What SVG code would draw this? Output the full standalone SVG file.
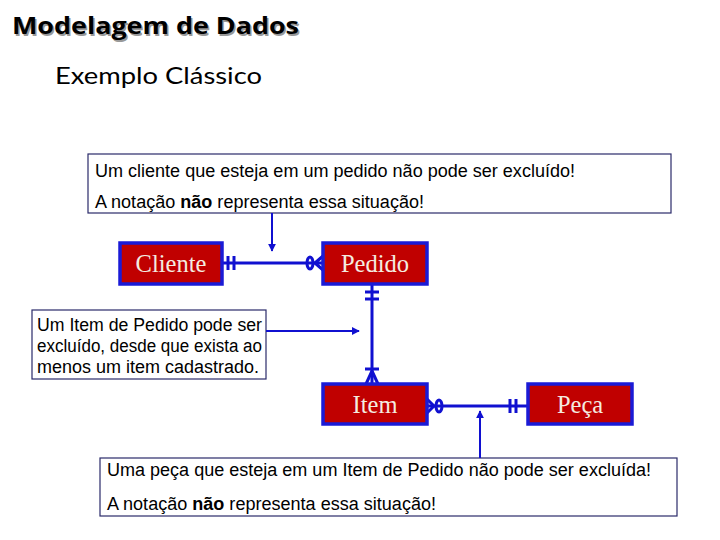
<svg xmlns="http://www.w3.org/2000/svg" width="720" height="540" viewBox="0 0 720 540">
<style>
.ent rect{fill:#c00000;stroke:#1a1ad6;stroke-width:3.5}
.ent text{font-family:"Liberation Serif",serif;font-size:24.5px;fill:#f4ece0;text-anchor:middle}
.note rect{fill:#fff;stroke:#2a2a6a;stroke-width:1.2}
.note text{font-family:"Liberation Sans",Arial,sans-serif;font-size:18px;fill:#000}
.c{stroke:#1010d0;stroke-width:3;fill:none}
.a{stroke:#1010d0;stroke-width:2;fill:none}
</style>
<defs>
<marker id="ah" viewBox="0 0 10 10" refX="9" refY="5" markerWidth="4" markerHeight="4" orient="auto">
<path d="M0,0 L10,5 L0,10 z" fill="#1010d0"/>
</marker>
</defs>
<rect width="720" height="540" fill="#fff"/>
<g id="title">
<text x="13.5" y="35.5" font-family="'Open Sans',sans-serif" font-weight="bold" font-size="24" fill="#999" textLength="287" lengthAdjust="spacingAndGlyphs">Modelagem de Dados</text>
<text x="12" y="34" font-family="'Open Sans',sans-serif" font-weight="bold" font-size="24" fill="#000" textLength="287" lengthAdjust="spacingAndGlyphs">Modelagem de Dados</text>
<text x="55" y="84" font-family="Lato,sans-serif" font-size="24" fill="#000" textLength="207" lengthAdjust="spacingAndGlyphs">Exemplo Clássico</text>
</g>
<g id="note1" class="note">
<rect x="88" y="154" width="583" height="59"/>
<text x="95" y="177" textLength="480" lengthAdjust="spacingAndGlyphs">Um cliente que esteja em um pedido não pode ser excluído!</text>
<text x="95" y="208" textLength="329" lengthAdjust="spacingAndGlyphs">A notação <tspan font-weight="bold">não</tspan> representa essa situação!</text>
</g>
<g id="note2" class="note">
<rect x="32" y="310" width="234" height="69"/>
<text x="37" y="331" textLength="225" lengthAdjust="spacingAndGlyphs">Um Item de Pedido pode ser</text>
<text x="37" y="352" textLength="225" lengthAdjust="spacingAndGlyphs">excluído, desde que exista ao</text>
<text x="37" y="373" textLength="222" lengthAdjust="spacingAndGlyphs">menos um item cadastrado.</text>
</g>
<g id="note3" class="note">
<rect x="100" y="458" width="577" height="58"/>
<text x="107" y="476" textLength="544" lengthAdjust="spacingAndGlyphs">Uma peça que esteja em um Item de Pedido não pode ser excluída!</text>
<text x="107" y="510" textLength="329" lengthAdjust="spacingAndGlyphs">A notação <tspan font-weight="bold">não</tspan> representa essa situação!</text>
</g>
<g id="connectors">
<line class="c" x1="222" y1="263" x2="323" y2="263"/>
<line class="c" x1="228" y1="256" x2="228" y2="270"/>
<line class="c" x1="234" y1="256" x2="234" y2="270"/>
<ellipse class="c" cx="310" cy="263" rx="3" ry="6" fill="#fff"/>
<path class="c" d="M315,263 L323,256 M315,263 L323,270"/>
<line class="c" x1="372" y1="284" x2="372" y2="384"/>
<line class="c" x1="365" y1="292" x2="379" y2="292"/>
<line class="c" x1="365" y1="299" x2="379" y2="299"/>
<line class="c" x1="365" y1="369" x2="379" y2="369"/>
<path class="c" d="M372,371 L366,384 M372,371 L378,384"/>
<line class="c" x1="427" y1="406" x2="528" y2="406"/>
<path class="c" d="M434,406 L427,399 M434,406 L427,413"/>
<ellipse class="c" cx="439" cy="406" rx="3" ry="6" fill="#fff"/>
<line class="c" x1="510" y1="399" x2="510" y2="413"/>
<line class="c" x1="516" y1="399" x2="516" y2="413"/>
<line class="a" x1="272" y1="213" x2="272" y2="251" marker-end="url(#ah)"/>
<line class="a" x1="266" y1="331" x2="359" y2="331" marker-end="url(#ah)"/>
<line class="a" x1="480" y1="458" x2="480" y2="411" marker-end="url(#ah)"/>
</g>
<g id="cliente" class="ent"><rect x="120" y="243" width="102" height="41"/><text x="171" y="272">Cliente</text></g>
<g id="pedido" class="ent"><rect x="323" y="243" width="104" height="41"/><text x="375" y="272">Pedido</text></g>
<g id="item" class="ent"><rect x="323" y="384" width="104" height="40"/><text x="375" y="413">Item</text></g>
<g id="peca" class="ent"><rect x="528" y="384" width="104" height="40"/><text x="580" y="413">Peça</text></g>
</svg>
